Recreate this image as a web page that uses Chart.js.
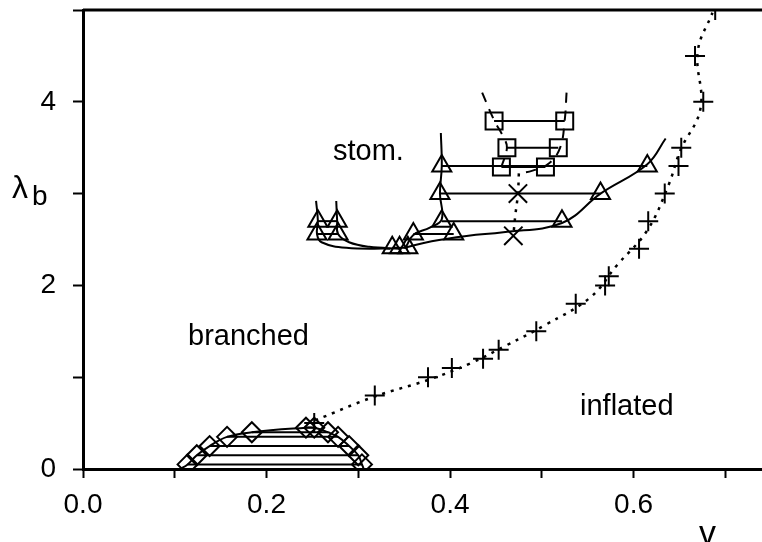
<!DOCTYPE html>
<html>
<head>
<meta charset="utf-8">
<script src="https://cdn.jsdelivr.net/npm/chart.js@4.4.1/dist/chart.umd.min.js"></script>
<style>
  html, body { margin: 0; padding: 0; background: #fff; }
  #wrap { width: 762px; height: 542px; }
</style>
</head>
<body>
<div id="wrap"><canvas id="phaseChart"></canvas></div>
<script>
// ---------------------------------------------------------------
// data (v, lambda_b)

// inflated boundary: plus markers and the dotted fit through them
const plusV = [0.252, 0.318, 0.376, 0.402, 0.436, 0.453, 0.494, 0.537, 0.569, 0.573, 0.606, 0.616, 0.634, 0.649, 0.652, 0.676, 0.667, 0.689];
const plusL = [0.5, 0.8, 1.0, 1.1, 1.2, 1.3, 1.5, 1.8, 2.0, 2.1, 2.4, 2.7, 3.0, 3.3, 3.5, 4.0, 4.5, 5.0];
const dottedV = [0.253, 0.318, 0.376, 0.422, 0.462, 0.504, 0.553, 0.582, 0.615, 0.638, 0.651, 0.673, 0.670, 0.686];
const dottedL = [0.53, 0.79, 0.97, 1.15, 1.35, 1.57, 1.87, 2.22, 2.60, 3.09, 3.47, 3.93, 4.55, 4.97];

// branched region: diamond pairs joined by tie lines
const diamondL = [0.05, 0.15, 0.25, 0.35, 0.40, 0.45];
const diamondLeftV = [0.114, 0.124, 0.138, 0.157, 0.184, 0.243];
const diamondRightV = [0.304, 0.300, 0.290, 0.278, 0.267, 0.252];

// stomatocyte region: triangle pairs
const triL = [2.56, 2.70, 2.41, 2.56, 2.70, 3.00, 3.30];
const triLeftV = [0.255, 0.256, 0.337, 0.360, 0.391, 0.389, 0.391];
const triRightV = [0.278, 0.277, 0.354, 0.404, 0.522, 0.564, 0.615];
const triExtraV = [0.345];
const triExtraL = [2.41];

// solid boundaries around the triangles
const curveAV = [0.254, 0.256, 0.255, 0.260, 0.287, 0.335];
const curveAL = [2.92, 2.70, 2.56, 2.47, 2.41, 2.40];
const curveBV = [0.276, 0.277, 0.278, 0.290, 0.312, 0.345];
const curveBL = [2.92, 2.70, 2.56, 2.47, 2.42, 2.40];
const curveCV = [0.352, 0.360, 0.378, 0.391, 0.389, 0.391, 0.390];
const curveCL = [2.42, 2.55, 2.63, 2.72, 3.00, 3.30, 3.66];
const curveDV = [0.350, 0.380, 0.420, 0.458, 0.522, 0.564, 0.615, 0.635];
const curveDL = [2.41, 2.48, 2.54, 2.58, 2.68, 3.00, 3.32, 3.60];

// square pairs and their dashed boundaries
const sqL = [3.79, 3.50, 3.29];
const sqLeftV = [0.448, 0.462, 0.456];
const sqRightV = [0.525, 0.518, 0.504];
const dashLeftV = [0.435, 0.448, 0.458, 0.462, 0.456];
const dashLeftL = [4.10, 3.80, 3.62, 3.50, 3.29];
const dashRightV = [0.527, 0.525, 0.520, 0.508, 0.490, 0.475];
const dashRightL = [4.10, 3.80, 3.50, 3.33, 3.25, 3.22];

// crosses on the dotted vertical
const crossV = [0.474, 0.469];
const crossL = [3.00, 2.54];
const dotVertV = [0.475, 0.474, 0.471, 0.469];
const dotVertL = [3.22, 3.00, 2.75, 2.54];

const xTickLabels = ['0.0', '0.2', '0.4', '0.6'];
const yTickLabels = ['0', '2', '4'];

// ---------------------------------------------------------------
const FONT = '"Liberation Sans", Arial, sans-serif';

function pts(xs, ys) {
  return xs.map((x, i) => ({ x: x, y: ys[i] }));
}

function curve(xs, ys, dash, width) {
  return {
    data: pts(xs, ys),
    showLine: true,
    tension: 0.4,
    borderColor: '#000',
    borderWidth: width || 2,
    borderDash: dash || [],
    pointRadius: 0,
  };
}

function tiePairs(leftV, rightV, levels, style, radius) {
  return levels.map((l, i) => ({
    data: [{ x: leftV[i], y: l }, { x: rightV[i], y: l }],
    showLine: true,
    tension: 0,
    borderColor: '#000',
    borderWidth: 2,
    pointStyle: style,
    pointRadius: radius,
    pointBorderColor: '#000',
    pointBorderWidth: 2,
    pointBackgroundColor: 'rgba(0,0,0,0)',
  }));
}

function markers(xs, ys, style, radius) {
  return {
    data: pts(xs, ys),
    showLine: false,
    pointStyle: style,
    pointRadius: radius,
    pointBorderColor: '#000',
    pointBorderWidth: 2,
    pointBackgroundColor: 'rgba(0,0,0,0)',
  };
}

// arch through the diamonds: up the left side, down the right
const archV = diamondLeftV.concat(diamondRightV.slice().reverse());
const archL = diamondL.concat(diamondL.slice().reverse());

const datasets = [
  curve(dottedV, dottedL, [3, 6], 2.5),
  markers(plusV, plusL, 'cross', 10),
  curve([0.106].concat(archV, [0.306]), [0].concat(archL, [0]), []),
  ...tiePairs(diamondLeftV, diamondRightV, diamondL, 'rectRot', 10),
  curve(curveAV, curveAL),
  curve(curveBV, curveBL),
  curve(curveCV, curveCL),
  curve(curveDV, curveDL),
  ...tiePairs(triLeftV, triRightV, triL, 'triangle', 11),
  markers(triExtraV, triExtraL, 'triangle', 11),
  curve(dashLeftV, dashLeftL, [10, 8]),
  curve(dashRightV, dashRightL, [10, 8]),
  ...tiePairs(sqLeftV, sqRightV, sqL, 'rect', 12),
  curve(dotVertV, dotVertL, [3, 6], 2.5),
  markers(crossV, crossL, 'crossRot', 13),
];

// labels and frame top
const annotations = {
  id: 'annotations',
  afterDraw(chart) {
    const { ctx, chartArea } = chart;
    ctx.save();
    ctx.strokeStyle = '#000';
    ctx.lineWidth = 3;
    ctx.beginPath();
    ctx.moveTo(chartArea.left, chartArea.top);
    ctx.lineTo(chartArea.right, chartArea.top);
    ctx.stroke();

    ctx.fillStyle = '#000';
    ctx.textBaseline = 'alphabetic';
    ctx.textAlign = 'left';
    ctx.font = '29px ' + FONT;
    ctx.fillText('stom.', 333, 160);
    ctx.fillText('branched', 188, 345);
    ctx.fillText('inflated', 580, 415);

    ctx.font = '32px ' + FONT;
    ctx.fillText('\u03bb', 12, 198);
    ctx.font = '28px ' + FONT;
    ctx.fillText('b', 32, 205);

    ctx.font = '34px ' + FONT;
    ctx.fillText('v', 699, 544);
    ctx.restore();
  }
};

function noPad(scale) {
  scale.paddingTop = 0;
  scale.paddingBottom = 0;
  scale.paddingLeft = 0;
  scale.paddingRight = 0;
}

new Chart(document.getElementById('phaseChart'), {
  type: 'scatter',
  data: { datasets },
  options: {
    responsive: true,
    maintainAspectRatio: false,
    animation: false,
    layout: { autoPadding: false, padding: { top: 10, right: 0, left: 0, bottom: 0 } },
    plugins: { legend: { display: false }, tooltip: { enabled: false } },
    scales: {
      x: {
        type: 'linear',
        min: 0,
        max: 0.74,
        afterFit(scale) { scale.height = 73; noPad(scale); },
        border: { color: '#000', width: 3 },
        grid: { drawOnChartArea: false, drawTicks: true, tickLength: 9, tickColor: '#000', tickWidth: 2 },
        ticks: {
          stepSize: 0.1,
          includeBounds: false,
          maxRotation: 0,
          autoSkip: false,
          padding: 10,
          color: '#000',
          font: { family: FONT, size: 28 },
          callback(v) {
            const s = Number(v).toFixed(1);
            return xTickLabels.includes(s) ? s : '';
          }
        }
      },
      y: {
        type: 'linear',
        min: 0,
        max: 5,
        afterFit(scale) { scale.width = 83; noPad(scale); },
        border: { color: '#000', width: 3 },
        grid: { drawOnChartArea: false, drawTicks: true, tickLength: 10, tickColor: '#000', tickWidth: 2 },
        ticks: {
          stepSize: 1,
          autoSkip: false,
          padding: 17,
          color: '#000',
          font: { family: FONT, size: 28 },
          callback(v) {
            const s = String(Math.round(v));
            return yTickLabels.includes(s) ? s : '';
          }
        }
      }
    }
  },
  plugins: [annotations]
});
</script>
</body>
</html>
